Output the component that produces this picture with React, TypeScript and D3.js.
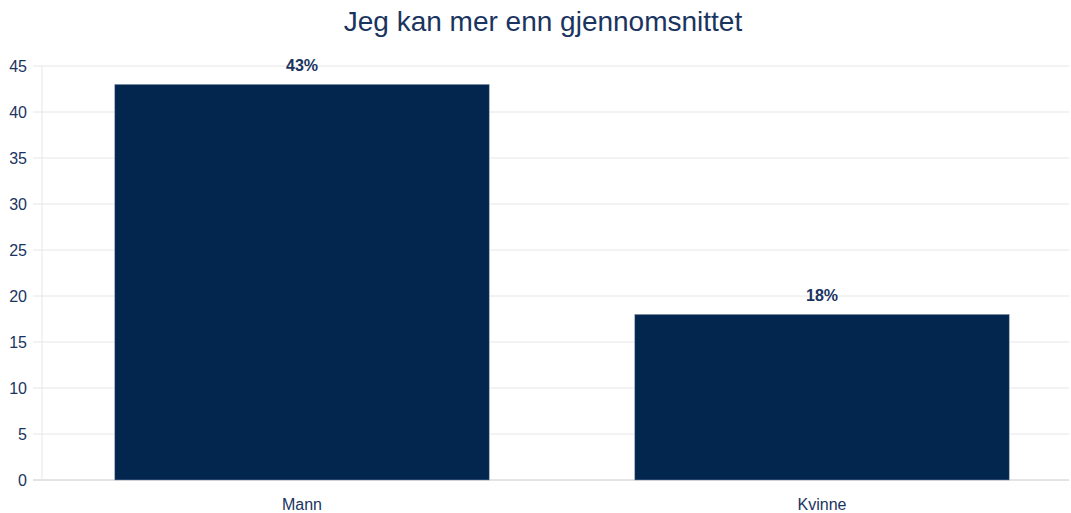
import React from "react";
import * as d3 from "d3";

const categories = ["Mann", "Kvinne"];
const values = [43, 18];
const valueLabels = ["43%", "18%"];
const yTicks = [0, 5, 10, 15, 20, 25, 30, 35, 40, 45];
const title = "Jeg kan mer enn gjennomsnittet";

const W = 1071;
const H = 513;
const NAVY = "#03264f";
const TEXT = "#1a3460";

export default function App() {
  const x = d3.scaleBand<string>().domain(categories).range([42, 1082]).paddingInner(0.28).paddingOuter(0.14);
  const y = d3.scaleLinear().domain([0, 45]).range([480, 66]);
  const font = "'Liberation Sans', Arial, Helvetica, sans-serif";
  return (
    <svg width={W} height={H} style={{ position: "absolute", left: 0, top: 0, background: "#fff" }} fontFamily={font}>
      <text x={543} y={31} textAnchor="middle" fontSize={28} fill={TEXT}>{title}</text>
      {yTicks.map((t) => (
        <g key={t}>
          <line x1={33} x2={1069} y1={y(t)} y2={y(t)} stroke={t === 0 ? "#c8c8c8" : "#e6e6e6"} strokeWidth={1} />
          <text x={27} y={y(t)} dy="0.36em" textAnchor="end" fontSize={16} fill={TEXT}>{t}</text>
        </g>
      ))}
      <line x1={42} x2={42} y1={66} y2={480} stroke="#e6e6e6" strokeWidth={1} />
      {categories.map((c, i) => (
        <g key={c}>
          <rect x={x(c)!} y={y(values[i])} width={x.bandwidth()} height={y(0) - y(values[i])} fill={NAVY} stroke="#8a9ab0" strokeWidth={0.5} />
          <text x={x(c)! + x.bandwidth() / 2} y={y(values[i]) - 13} textAnchor="middle" fontSize={16} fontWeight="bold" fill={TEXT}>{valueLabels[i]}</text>
          <text x={x(c)! + x.bandwidth() / 2} y={510} textAnchor="middle" fontSize={16} fill={TEXT}>{c}</text>
        </g>
      ))}
    </svg>
  );
}
